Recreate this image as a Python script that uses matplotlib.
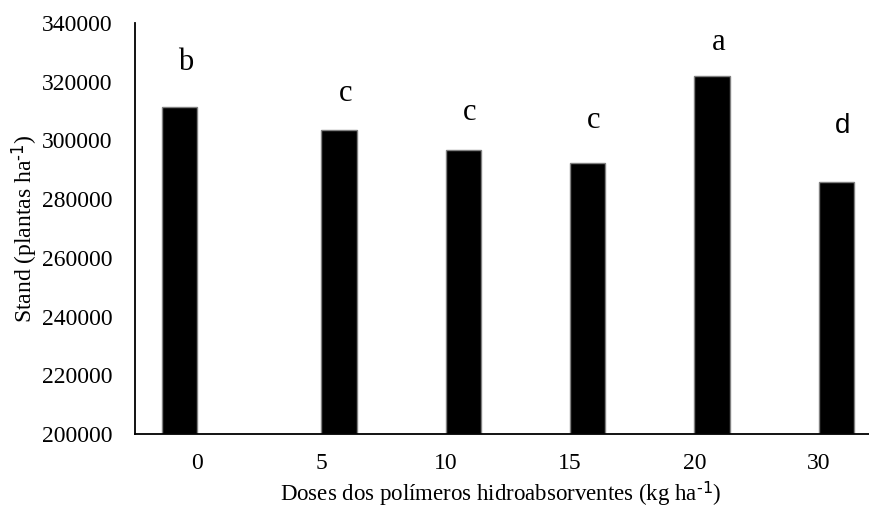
import matplotlib
matplotlib.use("Agg")
import matplotlib.pyplot as plt

# dados
doses = ["0", "5", "10", "15", "20", "30"]
stand = [311400, 303500, 296800, 292400, 322000, 285900]
letras = ["b", "c", "c", "c", "a", "d"]

plt.rcParams['font.family'] = ['Liberation Serif', 'DejaVu Serif']
plt.rcParams['mathtext.default'] = 'regular'

fig = plt.figure(figsize=(8.69, 5.11), dpi=100)
ax = fig.add_axes([0.1553, 0.1507, 0.8585, 0.8043])

# largura das barras; a primeira fica a esquerda do tick, as demais a direita
larg = 0.282
larguras = [-larg] + [larg] * (len(doses) - 1)
x = list(range(len(doses)))
ax.bar(x, [v - 200000 for v in stand], width=larguras, bottom=200000, align='edge',
       color='black', edgecolor='#808080', linewidth=1)

# letras (teste de medias)
gaps = [12600, 9900, 10300, 11900, 8900, 16600]
for i, (v, l) in enumerate(zip(stand, letras)):
    xc = i + larguras[i] / 2 + 0.05
    if l == 'd':
        ax.text(xc, v + gaps[i], l, ha='center', va='baseline', fontsize=20,
                family=['Liberation Sans', 'DejaVu Sans'])
    else:
        ax.text(xc, v + gaps[i], l, ha='center', va='baseline', fontsize=22)

ax.set_xlim(-0.5, 5.5)
ax.set_ylim(200000, 340000)
ax.set_yticks(range(200000, 340001, 20000))
ax.set_xticks(x)
ax.set_xticklabels(doses)
ax.tick_params(axis='both', length=0, labelsize=17)
ax.tick_params(axis='y', pad=16)
ax.tick_params(axis='x', pad=14)

ax.spines['top'].set_visible(False)
ax.spines['right'].set_visible(False)
ax.spines['left'].set_linewidth(1.3)
ax.spines['bottom'].set_linewidth(1.3)

ax.set_ylabel('Stand (plantas ha$^{\\text{-1}}$)', fontsize=17)
ax.yaxis.set_label_coords(-0.127, 0.5)
ax.set_xlabel('Doses dos polímeros hidroabsorventes (kg ha$^{\\text{-1}}$)', fontsize=16.5)
ax.xaxis.set_label_coords(0.49, -0.11)

fig.savefig('out.png', dpi=100)
